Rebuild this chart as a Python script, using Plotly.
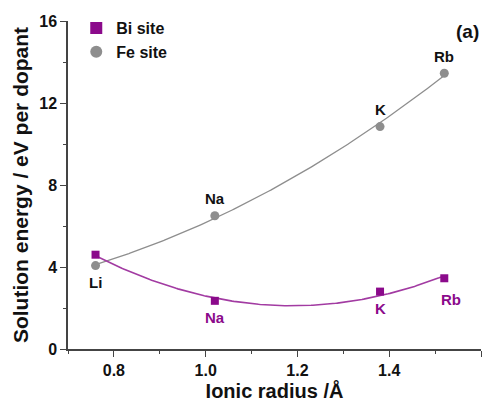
import numpy as np
import plotly.graph_objects as go

dopants = ["Li", "Na", "K", "Rb"]
ionic_radius = [0.76, 1.02, 1.38, 1.52]
bi_site = [4.6, 2.35, 2.8, 3.45]
fe_site = [4.07, 6.5, 10.85, 13.45]

PURPLE = "#8B0A8B"
PURPLE_LINE = "#A23BA2"
GRAY = "#8E8E8E"
FONT = "Liberation Sans, Arial, sans-serif"

xs = np.linspace(min(ionic_radius), max(ionic_radius), 200)
bi_fit = np.polyval(np.polyfit(ionic_radius, bi_site, 2), xs)
fe_fit = np.polyval(np.polyfit(ionic_radius, fe_site, 2), xs)

fig = go.Figure()
fig.add_trace(go.Scatter(x=xs, y=fe_fit, mode="lines", line=dict(color=GRAY, width=1.3),
                         showlegend=False, hoverinfo="skip"))
fig.add_trace(go.Scatter(x=xs, y=bi_fit, mode="lines", line=dict(color=PURPLE_LINE, width=1.6),
                         showlegend=False, hoverinfo="skip"))
fig.add_trace(go.Scatter(x=ionic_radius, y=bi_site, mode="markers", name="<b>Bi site</b>",
                         marker=dict(symbol="square", size=8, color=PURPLE)))
fig.add_trace(go.Scatter(x=ionic_radius, y=fe_site, mode="markers", name="<b>Fe site</b>",
                         marker=dict(symbol="circle", size=9, color=GRAY)))

# point labels
for i, d in enumerate(dopants):
    dy = -17 if i == 0 else 17
    fig.add_annotation(x=ionic_radius[i], y=fe_site[i], text=f"<b>{d}</b>", showarrow=False,
                       yshift=dy, font=dict(family=FONT, size=15, color="#111111"))
shifts = {1: (0, -17), 2: (0, -17), 3: (7, -21)}
for i, d in enumerate(dopants):
    if i == 0:
        continue
    xs_, ys_ = shifts[i]
    fig.add_annotation(x=ionic_radius[i], y=bi_site[i], text=f"<b>{d}</b>", showarrow=False,
                       xshift=xs_, yshift=ys_, font=dict(family=FONT, size=15, color=PURPLE))

fig.add_annotation(x=0.968, y=1.005, xref="paper", yref="paper", text="<b>(a)</b>",
                   showarrow=False, xanchor="center", yanchor="top",
                   font=dict(family=FONT, size=19, color="#111111"))

def axis_style(minor_dtick, minor_tick0):
    return dict(showline=True, linecolor="#444444", linewidth=1.5, ticks="outside",
                tickcolor="#444444", ticklen=6, tickwidth=1.3, showgrid=False, zeroline=False,
                tickfont=dict(family=FONT, size=16, color="#111111"), mirror=False,
                automargin=False,
                minor=dict(ticks="outside", ticklen=3, tickcolor="#444444", tickwidth=1,
                           dtick=minor_dtick, tick0=minor_tick0))

fig.update_xaxes(range=[0.7, 1.6], tickvals=[0.8, 1.0, 1.2, 1.4, 1.6],
                 ticktext=["<b>0.8</b>", "<b>1.0</b>", "<b>1.2</b>", "<b>1.4</b>", "<b>1.6</b>"],
                 title=dict(text="<b>Ionic radius /Å</b>", font=dict(family=FONT, size=20, color="#111111"),
                            standoff=4),
                 **axis_style(0.1, 0.7))
fig.update_yaxes(range=[0, 16], tickvals=[0, 4, 8, 12, 16],
                 ticktext=["<b>0</b>", "<b>4</b>", "<b>8</b>", "<b>12</b>", "<b>16</b>"],
                 title=dict(text="<b>Solution energy / eV per dopant</b>",
                            font=dict(family=FONT, size=21, color="#111111"), standoff=5),
                 **axis_style(2, 0))

fig.update_layout(width=492, height=405, margin=dict(l=68, r=11, t=16, b=56),
                  paper_bgcolor="white", plot_bgcolor="white",
                  legend=dict(x=0.02, y=1.03, xanchor="left", yanchor="top",
                              font=dict(family=FONT, size=16, color="#111111"),
                              bgcolor="rgba(0,0,0,0)", itemsizing="constant",
                              tracegroupgap=0, itemwidth=30),
                  font=dict(family=FONT))

fig.write_html("out.html")
